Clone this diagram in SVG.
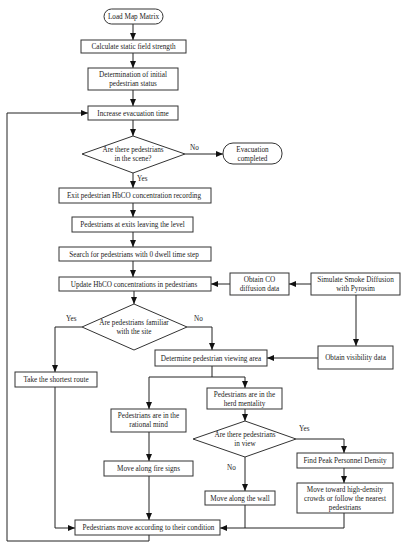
<svg xmlns="http://www.w3.org/2000/svg" width="410" height="550" viewBox="0 0 410 550">
<style>
.b{fill:#fff;stroke:#333;stroke-width:1}
.t{font-family:"Liberation Serif","Times New Roman",serif;font-size:7.2px;fill:#222;text-anchor:middle}
.l{font-family:"Liberation Serif","Times New Roman",serif;font-size:7.2px;fill:#222}
.c{fill:none;stroke:#222;stroke-width:1}
</style>
<defs>
<marker id="a" markerWidth="7" markerHeight="6" refX="7" refY="3" orient="auto" markerUnits="userSpaceOnUse"><path d="M0,0 L7,3 L0,6 Z" fill="#111"/></marker>
</defs>
<g id="connectors">
<path class="c" d="M133,24 V40" marker-end="url(#a)"/>
<path class="c" d="M133,53 V68" marker-end="url(#a)"/>
<path class="c" d="M133,90 V106" marker-end="url(#a)"/>
<path class="c" d="M133,120 V136" marker-end="url(#a)"/>
<path class="c" d="M185,154 H223" marker-end="url(#a)"/>
<path class="c" d="M133,173 V188" marker-end="url(#a)"/>
<path class="c" d="M133,203 V217" marker-end="url(#a)"/>
<path class="c" d="M133,232 V247" marker-end="url(#a)"/>
<path class="c" d="M133,261 V277" marker-end="url(#a)"/>
<path class="c" d="M134,291 V304" marker-end="url(#a)"/>
<path class="c" d="M311,284 H289" marker-end="url(#a)"/>
<path class="c" d="M230,284 H211" marker-end="url(#a)"/>
<path class="c" d="M356,295 V346" marker-end="url(#a)"/>
<path class="c" d="M318,358 H267" marker-end="url(#a)"/>
<path class="c" d="M187,327 H212 V350" marker-end="url(#a)"/>
<path class="c" d="M82,327 H55 V372" marker-end="url(#a)"/>
<path class="c" d="M55,387 V528 H75" marker-end="url(#a)"/>
<path class="c" d="M212,366 V377"/>
<path class="c" d="M149,377 H245"/>
<path class="c" d="M149,377 V409" marker-end="url(#a)"/>
<path class="c" d="M245,377 V388" marker-end="url(#a)"/>
<path class="c" d="M149,432 V461" marker-end="url(#a)"/>
<path class="c" d="M149,476 V520" marker-end="url(#a)"/>
<path class="c" d="M149,535 V541 H7 V113 H88" marker-end="url(#a)"/>
<path class="c" d="M245,409 V421" marker-end="url(#a)"/>
<path class="c" d="M296,439 H344 V453" marker-end="url(#a)"/>
<path class="c" d="M245,457 V491" marker-end="url(#a)"/>
<path class="c" d="M344,468 V483" marker-end="url(#a)"/>
<path class="c" d="M344,513 V528 H220" marker-end="url(#a)"/>
<path class="c" d="M245,505 V528"/>
<text class="l" x="190" y="150">No</text>
<text class="l" x="137" y="181">Yes</text>
<text class="l" x="66" y="321">Yes</text>
<text class="l" x="194" y="321">No</text>
<text class="l" x="299" y="431">Yes</text>
<text class="l" x="227" y="470">No</text>
</g>
<g id="n1"><rect class="b" x="104" y="9" width="59" height="15" rx="7.5"/><text class="t" x="133.5" y="19">Load Map Matrix</text></g>
<g id="n2"><rect class="b" x="81" y="40" width="105" height="13"/><text class="t" x="133.5" y="49">Calculate static field strength</text></g>
<g id="n3"><rect class="b" x="88" y="68" width="90" height="22"/><text class="t" x="133" y="77">Determination of initial</text><text class="t" x="133" y="86">pedestrian status</text></g>
<g id="n4"><rect class="b" x="88" y="106" width="90" height="14"/><text class="t" x="133" y="115.5">Increase evacuation time</text></g>
<g id="n5"><polygon class="b" points="133,136 185,154 133,173 82,154"/><text class="t" x="133" y="152">Are there pedestrians</text><text class="t" x="133" y="161">in the scene?</text></g>
<g id="n6"><rect class="b" x="223" y="143" width="59" height="21" rx="10"/><text class="t" x="252.5" y="151.5">Evacuation</text><text class="t" x="252.5" y="160.5">completed</text></g>
<g id="n7"><rect class="b" x="59" y="188" width="152" height="15"/><text class="t" x="134" y="198">Exit pedestrian HbCO concentration recording</text></g>
<g id="n8"><rect class="b" x="72" y="217" width="121" height="15"/><text class="t" x="132.5" y="227">Pedestrians at exits leaving the level</text></g>
<g id="n9"><rect class="b" x="59" y="247" width="152" height="14"/><text class="t" x="134" y="256.5">Search for pedestrians with 0 dwell time step</text></g>
<g id="n10"><rect class="b" x="59" y="277" width="152" height="14"/><text class="t" x="134" y="286.5">Update HbCO concentrations in pedestrians</text></g>
<g id="n11"><rect class="b" x="230" y="273" width="59" height="22"/><text class="t" x="259.5" y="282">Obtain CO</text><text class="t" x="259.5" y="291">diffusion data</text></g>
<g id="n12"><rect class="b" x="311" y="273" width="89" height="22"/><text class="t" x="355.5" y="282">Simulate Smoke Diffusion</text><text class="t" x="355.5" y="291">with Pyrosim</text></g>
<g id="n13"><polygon class="b" points="134,304 187,327 134,350 82,327"/><text class="t" x="134" y="325">Are pedestrians familiar</text><text class="t" x="134" y="334">with the site</text></g>
<g id="n14"><rect class="b" x="155" y="350" width="112" height="16"/><text class="t" x="211" y="360.5">Determine pedestrian viewing area</text></g>
<g id="n15"><rect class="b" x="318" y="346" width="75" height="23"/><text class="t" x="355.5" y="360">Obtain visibility data</text></g>
<g id="n16"><rect class="b" x="15" y="372" width="82" height="15"/><text class="t" x="56" y="382">Take the shortest route</text></g>
<g id="n17"><rect class="b" x="207" y="388" width="75" height="21"/><text class="t" x="244.5" y="396.5">Pedestrians are in the</text><text class="t" x="244.5" y="405.5">herd mentality</text></g>
<g id="n18"><rect class="b" x="111" y="409" width="75" height="23"/><text class="t" x="148.5" y="418">Pedestrians are in the</text><text class="t" x="148.5" y="427">rational mind</text></g>
<g id="n19"><polygon class="b" points="245,421 296,439 245,457 193,439"/><text class="t" x="245" y="437">Are there pedestrians</text><text class="t" x="245" y="446">in view</text></g>
<g id="n20"><rect class="b" x="297" y="453" width="96" height="15"/><text class="t" x="345" y="463">Find Peak Personnel Density</text></g>
<g id="n21"><rect class="b" x="104" y="461" width="89" height="15"/><text class="t" x="148.5" y="471">Move along fire signs</text></g>
<g id="n22"><rect class="b" x="297" y="483" width="96" height="30"/><text class="t" x="345" y="492">Move toward high-density</text><text class="t" x="345" y="501">crowds or follow the nearest</text><text class="t" x="345" y="510">pedestrians</text></g>
<g id="n23"><rect class="b" x="205" y="491" width="70" height="14"/><text class="t" x="240" y="500.5">Move along the wall</text></g>
<g id="n24"><rect class="b" x="75" y="520" width="145" height="15"/><text class="t" x="148.5" y="530">Pedestrians move according to their condition</text></g>
</svg>
